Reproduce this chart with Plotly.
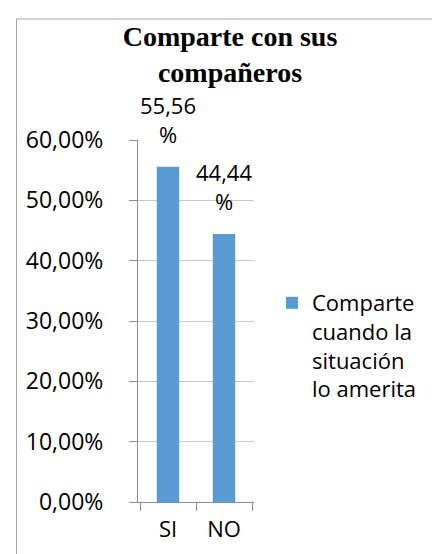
import plotly.graph_objects as go

categories = ["SI", "NO"]
values = [0.5556, 0.4444]
value_labels = ["55,56<br>%", "44,44<br>%"]
series_name = "Comparte<br>cuando la<br>situación<br>lo amerita"
tick_vals = [0, 0.1, 0.2, 0.3, 0.4, 0.5, 0.6]
tick_text = ["0,00%", "10,00%", "20,00%", "30,00%", "40,00%", "50,00%", "60,00%"]
title_text = "Comparte con sus<br>compañeros"

W, H = 440, 554
L, R, T, B = 130, 194, 132, 60
pw, ph = W - L - R, H - T - B

def px_x(x):
    return (x - L) / pw

def px_y(y):
    return (H - B - y) / ph

font_main = "Open Sans, Calibri, sans-serif"

fig = go.Figure()
fig.add_trace(go.Bar(
    x=categories, y=values, name=series_name,
    marker=dict(color="#5b9bd5", line=dict(width=0)),
    showlegend=True,
))

for c, v, t in zip(categories, values, value_labels):
    fig.add_annotation(x=c, y=v, text=t, showarrow=False, xanchor="center",
                       yanchor="bottom", yshift=16,
                       font=dict(family=font_main, size=22, color="#000000"))

fig.update_layout(
    width=W, height=H,
    margin=dict(l=L, r=R, t=T, b=B),
    paper_bgcolor="white", plot_bgcolor="white",
    bargap=0.6,
    title=dict(text=title_text, x=222 / W, xanchor="center", y=1 - 38 / H, yanchor="top",
               xref="container", yref="container",
               font=dict(family="Liberation Serif, Times New Roman, serif", size=28, color="#000000",
                         weight="bold")),
    font=dict(family=font_main, size=22, color="#000000"),
    legend=dict(x=px_x(264), xanchor="left", y=px_y(274), yanchor="top",
                valign="top", bgcolor="rgba(0,0,0,0)", borderwidth=0,
                font=dict(family=font_main, size=22, color="#000000"),
                itemwidth=30, tracegroupgap=0),
    xaxis=dict(showline=True, linecolor="#8c8c8c", linewidth=1,
               ticks="outside", ticklen=8, tickcolor="#8c8c8c", tickson="boundaries",
               showgrid=False, ticklabelstandoff=8,
               tickfont=dict(family=font_main, size=22, color="#000000"),
               fixedrange=True),
    yaxis=dict(range=[0, 0.6], tickvals=tick_vals, ticktext=tick_text,
               showline=True, linecolor="#8c8c8c", linewidth=1,
               ticks="outside", ticklen=8, tickcolor="#8c8c8c",
               showgrid=True, gridcolor="#c8c8c8", gridwidth=1, zeroline=False,
               ticklabelstandoff=21,
               tickfont=dict(family=font_main, size=23, color="#000000"),
               fixedrange=True),
    shapes=[
        dict(type="line", xref="paper", yref="paper", x0=px_x(8.5), x1=px_x(445),
             y0=px_y(11), y1=px_y(11), line=dict(color="#a6a6a6", width=1)),
        dict(type="line", xref="paper", yref="paper", x0=px_x(8.5), x1=px_x(8.5),
             y0=px_y(11), y1=px_y(560), line=dict(color="#a6a6a6", width=1)),
    ],
)

fig.write_html("out.html")
